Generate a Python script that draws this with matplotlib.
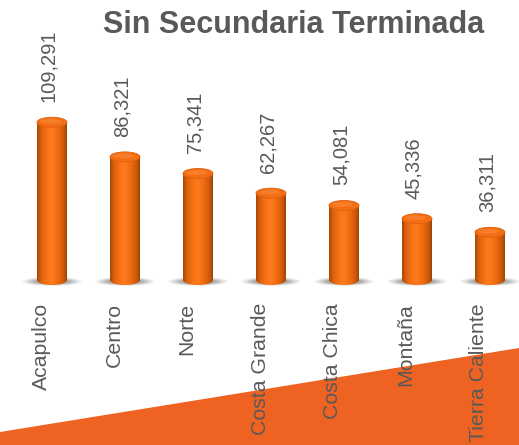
import matplotlib.pyplot as plt
import matplotlib.transforms as mtransforms
import numpy as np
from matplotlib.colors import LinearSegmentedColormap
from matplotlib.patches import Ellipse, Polygon

# data
regions = ['Acapulco', 'Centro', 'Norte', 'Costa Grande', 'Costa Chica',
           'Montaña', 'Tierra Caliente']
values = [109291, 86321, 75341, 62267, 54081, 45336, 36311]
value_labels = ['109,291', '86,321', '75,341', '62,267', '54,081', '45,336', '36,311']
title = 'Sin Secundaria Terminada'

plt.rcParams['font.family'] = ['Liberation Sans', 'DejaVu Sans']
text_color = '#595959'

fig = plt.figure(figsize=(5.19, 4.45), dpi=100)

# orange wedge at the bottom right (behind everything)
fig.patches.append(Polygon([(0, 1 - 432 / 445), (1, 1 - 348 / 445), (1, 0), (0, 0)],
                           closed=True, transform=fig.transFigure,
                           facecolor='#EF6322', edgecolor='none', zorder=0))

ax = fig.add_axes([0, 158 / 445, 1, 287 / 445])
ax.set_zorder(2)
ax.set_facecolor('none')
ax.set_xlim(-52 / 73, 467 / 73)
ax.set_ylim(0, 190400)
for s in ax.spines.values():
    s.set_visible(False)
ax.set_yticks([])

x = np.arange(len(regions))
width = 30 / 73
px_y = 190400 / 287          # data units per pixel (vertical)
floor = 7 * px_y             # visual floor of the cylinders
eh = 10 * px_y               # ellipse height of the cylinder caps

cyl = LinearSegmentedColormap.from_list('cyl', [
    (0.0, '#A84806'), (0.12, '#D9600C'), (0.35, '#FA7417'),
    (0.5, '#FF7B1D'), (0.75, '#E9660F'), (0.92, '#C4560A'), (1.0, '#9A4205')])
grad = np.linspace(0, 1, 100).reshape(1, -1)

bars = ax.bar(x, np.array(values) - floor, bottom=floor, width=width,
              color='none', edgecolor='none')

for xi, b, v, lab in zip(x, bars, values, value_labels):
    x0 = xi - width / 2
    x1 = xi + width / 2
    # soft shadow
    for k in range(6):
        ax.add_patch(Ellipse((xi, floor - 1.5 * px_y), width * (2.0 - 0.15 * k),
                             eh * (0.9 - 0.08 * k), facecolor='#606060',
                             alpha=0.06 + 0.02 * k, edgecolor='none', zorder=1))
    # body
    im = ax.imshow(grad, cmap=cyl, extent=(x0, x1, floor, v), aspect='auto',
                   zorder=2, interpolation='bicubic')
    im.set_clip_path(b)
    bot = Ellipse((xi, floor), width, eh, facecolor='none', edgecolor='none')
    ax.add_patch(bot)
    im2 = ax.imshow(grad, cmap=cyl, extent=(x0, x1, floor - eh, floor + eh),
                    aspect='auto', zorder=2, interpolation='bicubic')
    im2.set_clip_path(bot)
    # top cap
    ax.add_patch(Ellipse((xi, v), width, eh, facecolor='#F26D14',
                         edgecolor='#E0600C', linewidth=0.6, zorder=3))
    ax.add_patch(Ellipse((xi - width * 0.05, v + eh * 0.1), width * 0.7, eh * 0.5,
                         facecolor='#F88230', edgecolor='none', alpha=0.8, zorder=3))
    ax.annotate(lab, (xi, v), xytext=(-3, 20), textcoords='offset pixels',
                rotation=90, ha='center', va='bottom', fontsize=14.5,
                color=text_color)

ax.set_xticks(x)
ax.set_xticklabels(regions, rotation=90, fontsize=15.3, color=text_color,
                   va='top', ha='center')
ax.tick_params(axis='x', length=0, pad=11.5)
for t in ax.get_xticklabels():
    t.set_transform(t.get_transform() +
                    mtransforms.ScaledTranslation(-11 / 100, 0, fig.dpi_scale_trans))

fig.text(294 / 519, 1 - 10 / 445, title, ha='center', va='top', fontsize=22,
         fontweight='bold', color=text_color)

fig.savefig('out.png', dpi=100)
plt.close(fig)
